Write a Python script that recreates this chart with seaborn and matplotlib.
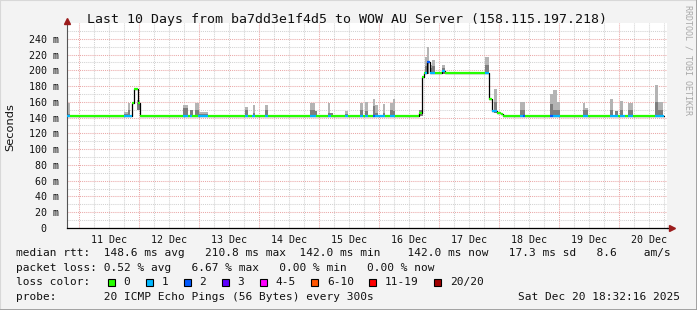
import numpy as np
import matplotlib
matplotlib.use("Agg")
import matplotlib.pyplot as plt
import seaborn as sns
from matplotlib.patches import Rectangle
from matplotlib.lines import Line2D

# ---------------- data (x in days counted from Dec 10 00:00) ----------------
day_labels = ["11 Dec", "12 Dec", "13 Dec", "14 Dec", "15 Dec",
              "16 Dec", "17 Dec", "18 Dec", "19 Dec", "20 Dec"]
ytick_vals = [0, 20, 40, 60, 80, 100, 120, 140, 160, 180, 200, 220, 240]

# median rtt step segments: edges, value (ms), lost pings
med_edges = [0.800, 0.850, 1.750, 1.883, 1.917, 1.983, 2.017, 2.733, 2.817, 2.850,
             2.883, 2.983, 3.150, 3.767, 3.817, 3.883, 3.933, 4.100, 4.150, 4.850,
             4.950, 5.150, 5.200, 5.433, 5.483, 5.683, 5.733, 5.767, 5.817, 5.900,
             5.933, 6.100, 6.183, 6.267, 6.667, 6.717, 6.750, 6.767, 6.800, 6.850,
             6.933, 7.050, 7.100, 7.767, 7.833, 7.883, 7.967, 8.033, 8.067, 8.350,
             8.400, 8.433, 8.850, 8.900, 9.017, 9.400, 9.483, 9.850, 9.983, 10.017,
             10.100, 10.150, 10.233, 10.600, 10.750]
med_ms = [142, 142, 142, 159, 176, 158, 142, 142, 142, 142,
          142, 142, 142, 142, 142, 142, 142, 142, 142, 142,
          142, 142, 142, 142, 142, 142, 142, 142, 142, 142,
          142, 142, 142, 142, 146, 192, 196, 196, 211, 196,
          196, 199, 196, 196, 164, 148, 146, 144, 142, 142,
          142, 142, 142, 142, 142, 142, 142, 142, 142, 142,
          142, 142, 142, 142]
med_loss = [1, 0, 1, 0, 0, 0, 0, 1, 0, 1,
            0, 1, 0, 1, 0, 1, 0, 1, 0, 1,
            0, 1, 0, 1, 0, 1, 0, 1, 0, 2,
            1, 0, 1, 0, 0, 0, 0, 1, 2, 1,
            0, 1, 0, 1, 0, 1, 0, 0, 0, 1,
            2, 0, 2, 1, 0, 1, 0, 1, 0, 1,
            0, 1, 0, 1]

# smoke (ping spread): start, end, low, dense part top, high (ms)
smoke_start = [0.800, 1.750, 1.817, 1.967, 2.733, 2.850, 2.933, 3.000, 3.767, 3.900,
               4.100, 4.850, 4.933, 5.150, 5.183, 5.433, 5.683, 5.767, 5.900, 5.933,
               6.067, 6.183, 6.233, 6.667, 6.767, 6.800, 6.850, 6.883, 7.050, 7.767,
               7.917, 8.350, 8.850, 8.900, 8.967, 9.400, 9.433, 9.850, 9.933, 10.017,
               10.150, 10.600, 10.650]
smoke_end = [0.850, 1.817, 1.850, 2.017, 2.817, 2.900, 3.000, 3.150, 3.817, 3.933,
             4.150, 4.933, 4.967, 5.183, 5.233, 5.483, 5.733, 5.817, 5.933, 5.983,
             6.100, 6.233, 6.267, 6.733, 6.800, 6.833, 6.883, 6.933, 7.100, 7.833,
             7.967, 8.433, 8.900, 8.967, 9.017, 9.433, 9.483, 9.900, 9.983, 10.067,
             10.233, 10.650, 10.733]
smoke_lo = [142, 142, 142, 150, 142, 142, 142, 142, 142, 142,
            142, 142, 142, 142, 142, 142, 142, 142, 142, 142,
            142, 142, 142, 142, 195, 195, 195, 195, 195, 195,
            146, 142, 142, 142, 142, 142, 142, 142, 142, 142,
            142, 142, 142]
smoke_mid = [145, 145, 150, 158, 152, 150, 150, 145, 150, 146,
             150, 150, 149, 146, 146, 145, 150, 148, 155, 146,
             146, 150, 148, 150, 205, 210, 203, 205, 203, 207,
             160, 150, 157, 150, 150, 150, 150, 150, 149, 150,
             150, 160, 150]
smoke_hi = [159, 147, 159, 162, 156, 150, 159, 147, 154, 156,
            156, 159, 149, 159, 146, 148, 159, 160, 164, 156,
            157, 159, 164, 150, 217, 229, 207, 213, 207, 217,
            176, 160, 170, 175, 160, 158, 152, 164, 149, 161,
            158, 182, 160]

loss_labels = ["0", "1", "2", "3", "4-5", "6-10", "11-19", "20/20"]
loss_colors = ["#26ff00", "#00b8ff", "#0059ff", "#5e00ff",
               "#ff00ff", "#ff5500", "#ff0000", "#a00000"]

title = "Last 10 Days from ba7dd3e1f4d5 to WOW AU Server (158.115.197.218)"
legend_rows = [
    "median rtt:  148.6 ms avg   210.8 ms max  142.0 ms min    142.0 ms now   17.3 ms sd   8.6    am/s",
    "packet loss: 0.52 % avg   6.67 % max   0.00 % min   0.00 % now",
    "loss color:",
    "probe:       20 ICMP Echo Pings (56 Bytes) every 300s",
]
stamp = "Sat Dec 20 18:32:16 2025"

# ---------------- drawing ----------------
sns.set_theme(style="white")
plt.rcParams["font.family"] = ["DejaVu Sans Mono", "DejaVu Sans"]
MONO = "DejaVu Sans Mono"

W, H = 697, 310
fig = plt.figure(figsize=(W / 100, H / 100), dpi=100)
fig.patch.set_facecolor("#f3f3f3")


def fx(px):
    return px / W


def fy(py):
    return 1 - py / H


ax = fig.add_axes([fx(67), fy(228), 600 / W, 205 / H])
ax.set_facecolor("white")
ax.set_xlim(0.8, 10.8)
ax.set_ylim(0, 260)

RED = "#eaa8a8"
GRAY = "#d2d2d2"
dot = (0, (1, 1))

# grid
ax.set_yticks(ytick_vals)
ax.set_yticklabels([f"{v} m" if v else "0  " for v in ytick_vals])
ax.set_yticks(np.arange(10, 260, 20), minor=True)
ax.grid(which="minor", axis="y", color=GRAY, ls=dot, lw=0.75, zorder=0)
ax.grid(which="major", axis="y", color=RED, ls=dot, lw=0.75, zorder=0)
quarter = np.arange(1, 10.8, 0.25)
ax.vlines([q for q in quarter if q % 1], 0, 260, colors=GRAY, linestyles=dot, lw=0.75, zorder=0.5)
ax.vlines([q for q in quarter if not q % 1], 0, 260, colors=RED, linestyles=dot, lw=0.75, zorder=0.6)

ax.set_xticks(np.arange(1.5, 11, 1.0))
ax.set_xticklabels(day_labels)
ax.set_xticks(quarter, minor=True)
ax.tick_params(axis="x", which="major", length=0, pad=5, labelsize=7.2)
ax.tick_params(axis="x", which="minor", length=2, color=GRAY, width=0.7)
ax.tick_params(axis="y", which="major", length=3, color=RED, width=0.8, pad=3, labelsize=7.2)
ax.tick_params(axis="y", which="minor", length=0)
for lab in ax.get_xticklabels() + ax.get_yticklabels():
    lab.set_family(MONO)
    lab.set_color("#111111")

for s in ("top", "right"):
    ax.spines[s].set_visible(False)
ax.spines["left"].set_color("#555555")
ax.spines["left"].set_linewidth(0.8)
ax.spines["bottom"].set_color("#000000")
ax.spines["bottom"].set_linewidth(0.9)
ax.set_axisbelow(True)

# smoke
s_start = np.array(smoke_start)
s_w = np.array(smoke_end) - s_start
s_lo = np.array(smoke_lo)
ax.bar(s_start, np.array(smoke_hi) - s_lo, width=s_w, bottom=s_lo, align="edge",
       color="#b4b4b4", lw=0, zorder=2)
ax.bar(s_start, np.array(smoke_mid) - s_lo, width=s_w, bottom=s_lo, align="edge",
       color="#7e7e7e", lw=0, zorder=2.1)

# median: black step line, then loss-coloured segments
step_y = list(med_ms) + [med_ms[-1]]
sns.lineplot(x=med_edges, y=step_y, ax=ax, drawstyle="steps-post", color="black",
             lw=0.9, estimator=None, sort=False, zorder=3)
ax.hlines(med_ms, med_edges[:-1], med_edges[1:],
          colors=[loss_colors[l] for l in med_loss], lw=1.6, zorder=4)
ax.set_xlabel("")
ax.set_ylabel("")

# axis arrows
ARROW = "#9b1c1c"
ax.plot([0], [1.01], marker="^", ms=4.5, color=ARROW, transform=ax.transAxes,
        clip_on=False, zorder=6)
ax.plot([1.0, 1.008], [0, 0], color="black", lw=0.9, transform=ax.transAxes, clip_on=False)
ax.plot([1.008], [0], marker=">", ms=4.5, color=ARROW, transform=ax.transAxes,
        clip_on=False, zorder=6)

# texts
fig.text(fx(347), fy(19), title, ha="center", va="center", family=MONO, size=9.5, color="#111111")
fig.text(fx(10), fy(127), "Seconds", ha="center", va="center", rotation=90,
         family="DejaVu Sans", size=8.2, color="#111111")
fig.text(fx(688), fy(60), "RRDTOOL / TOBI OETIKER", ha="center", va="center", rotation=270,
         family=MONO, size=6.0, color="#a8a8a8")

LS = 8.0
row_y = [253.5, 268.0, 282.3, 296.7]
for txt, yy in zip(legend_rows, row_y):
    fig.text(fx(16), fy(yy), txt, ha="left", va="center", family=MONO, size=LS, color="#111111")
fig.text(fx(680), fy(row_y[3]), stamp, ha="right", va="center", family=MONO, size=LS, color="#111111")

# loss colour legend boxes
cw = 0.602 * LS / 72 * 100  # char width in px
bx = 108.0
for lab, col in zip(loss_labels, loss_colors):
    fig.patches.append(Rectangle((fx(bx), fy(row_y[2] + 3.5)), 7 / W, 7 / H,
                                 transform=fig.transFigure, facecolor=col,
                                 edgecolor="black", lw=0.8))
    lx = bx + 15.6
    fig.text(fx(lx), fy(row_y[2]), lab, ha="left", va="center", family=MONO, size=LS, color="#111111")
    bx = lx + len(lab) * cw + 15.7

# 3d frame of the canvas
fig.lines.append(Line2D([0, 0], [0, 1], transform=fig.transFigure, color="#d8d8d8", lw=1.5))
fig.lines.append(Line2D([0, 1], [1, 1], transform=fig.transFigure, color="#d8d8d8", lw=1.5))
fig.lines.append(Line2D([1, 1], [0, 1], transform=fig.transFigure, color="#9a9a9a", lw=2))
fig.lines.append(Line2D([0, 1], [0, 0], transform=fig.transFigure, color="#9a9a9a", lw=2))

fig.savefig("out.png", dpi=100, facecolor=fig.get_facecolor())
